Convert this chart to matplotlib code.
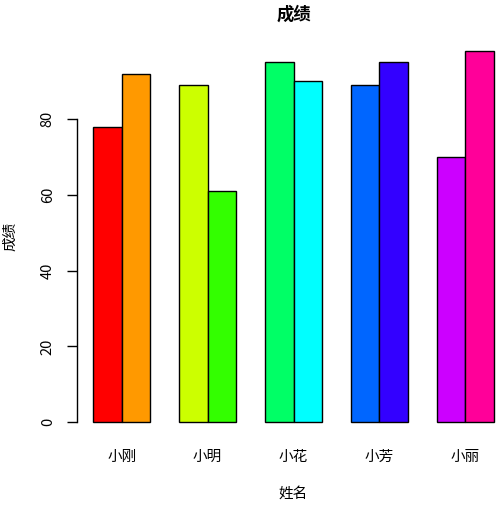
import matplotlib.pyplot as plt
import numpy as np

plt.rcParams['font.family'] = ['Noto Sans CJK SC', 'DejaVu Sans']

names = ["小刚", "小明", "小花", "小芳", "小丽"]
first_scores = [78, 89, 95, 89, 70]
second_scores = [92, 61, 90, 95, 98]
# rainbow(10) in R order: each pair of bars gets the next two colours
colors = ["#FF0000", "#FF9900", "#CCFF00", "#33FF00", "#00FF66",
          "#00FFFF", "#0066FF", "#3300FF", "#CC00FF", "#FF0099"]
y_ticks = [0, 20, 40, 60, 80]

W, H = 503, 509
fig = plt.figure(figsize=(W / 100, H / 100), dpi=100)
# plot region in pixels: x 77..510, y 36..437 (R-like margins)
ax = fig.add_axes([77 / W, (H - 437) / H, 433 / W, 401 / H])

group_left = 1 + 3 * np.arange(len(names))
heights = np.ravel(np.column_stack([first_scores, second_scores]))
lefts = np.ravel(np.column_stack([group_left, group_left + 1]))
ax.bar(lefts, heights, width=1, align="edge", color=colors,
       edgecolor="black", linewidth=1)

n_bars = 2 * len(names)
span = n_bars + len(names) - 1
ax.set_xlim(1 - 0.04 * span, 1 + span + 0.04 * span)
ymax = max(max(first_scores), max(second_scores))
ax.set_ylim(-0.04 * ymax, ymax * 1.04)

for side in ["top", "right", "bottom"]:
    ax.spines[side].set_visible(False)
ax.spines["left"].set_bounds(y_ticks[0], y_ticks[-1])
ax.spines["left"].set_linewidth(1)

ax.set_yticks(y_ticks)
ax.set_yticklabels([str(t) for t in y_ticks], rotation=90, va="center")
ax.tick_params(axis="y", length=7, width=1, pad=9, labelsize=10.5)
ax.set_xticks(group_left + 1)
ax.set_xticklabels(names)
ax.tick_params(axis="x", length=0, pad=9, labelsize=10.5)

ax.set_title("成绩", fontsize=12.5, fontweight="bold", pad=12)
ax.set_xlabel("姓名", fontsize=10.5, labelpad=17)
ax.set_ylabel("成绩", fontsize=10.5, labelpad=17)

fig.savefig("out.png", dpi=100)
